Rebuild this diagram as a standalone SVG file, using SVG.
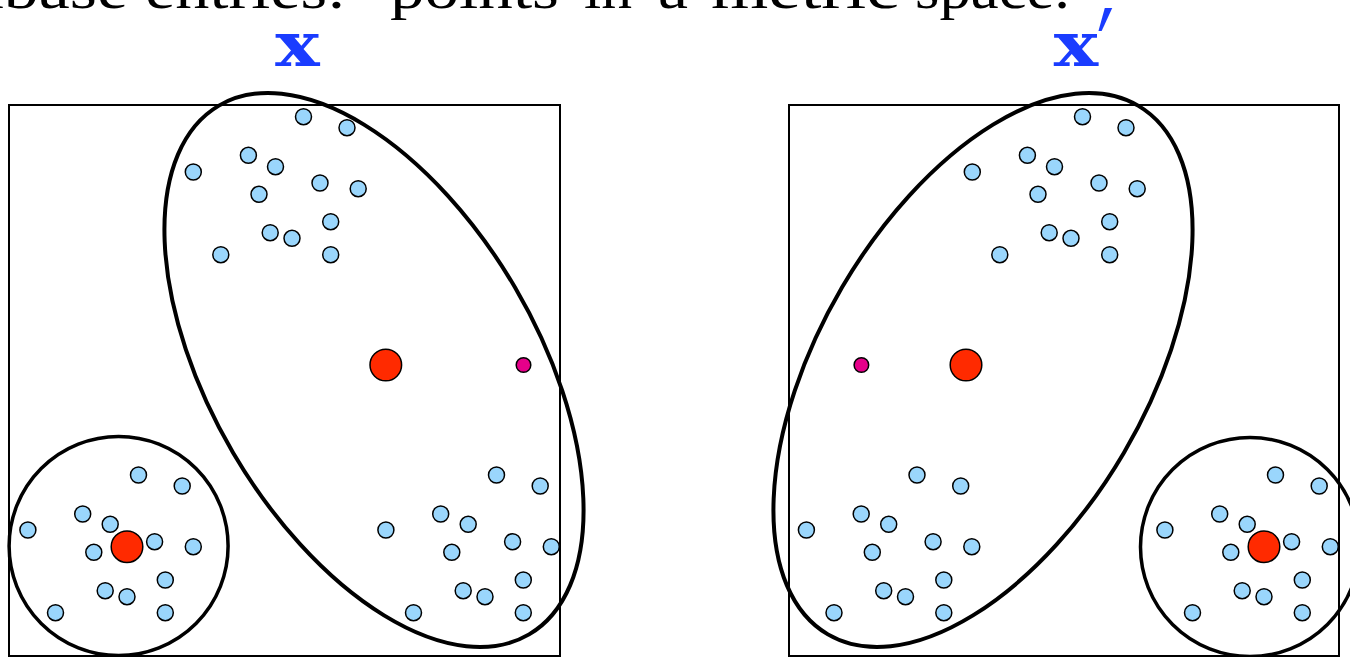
<svg xmlns="http://www.w3.org/2000/svg" xmlns:xlink="http://www.w3.org/1999/xlink" width="1350" height="657" viewBox="0 0 1350 657">
<style>
.title{font-family:"Liberation Serif","DejaVu Serif",serif;font-size:56px;fill:#000}
.lbl{font-family:"DejaVu Serif","Liberation Serif",serif;font-weight:bold;font-size:62px;fill:#1a3cff}
.prime{font-family:"DejaVu Sans","Liberation Sans",sans-serif;font-size:125px;fill:#1a3cff}
.box{fill:none;stroke:#000;stroke-width:2}
.big{fill:none;stroke:#000;stroke-width:4}
.small{fill:none;stroke:#000;stroke-width:3.5}
.pt{fill:#9ad6fc;stroke:#000;stroke-width:1.5}
.ctr{fill:#ff2a00;stroke:#000;stroke-width:1.5}
.q{fill:#e6008a;stroke:#000;stroke-width:1.5}
</style>
<defs>
<g id="topc">
<circle class="pt" cx="303.5" cy="116.7" r="8"/>
<circle class="pt" cx="347" cy="127.7" r="8"/>
<circle class="pt" cx="248.4" cy="155.3" r="8"/>
<circle class="pt" cx="275.5" cy="166.7" r="8"/>
<circle class="pt" cx="193.3" cy="172" r="8"/>
<circle class="pt" cx="320" cy="183" r="8"/>
<circle class="pt" cx="358.2" cy="188.7" r="8"/>
<circle class="pt" cx="259" cy="194.3" r="8"/>
<circle class="pt" cx="330.7" cy="221.7" r="8"/>
<circle class="pt" cx="270.2" cy="232.7" r="8"/>
<circle class="pt" cx="292" cy="238.3" r="8"/>
<circle class="pt" cx="220.8" cy="254.7" r="8"/>
<circle class="pt" cx="330.7" cy="254.7" r="8"/>
</g>
<g id="botc">
<circle class="pt" cx="138.5" cy="475" r="8"/>
<circle class="pt" cx="182.2" cy="486" r="8"/>
<circle class="pt" cx="82.7" cy="514" r="8"/>
<circle class="pt" cx="110.2" cy="524.3" r="8"/>
<circle class="pt" cx="27.9" cy="530" r="8"/>
<circle class="pt" cx="154.6" cy="541.7" r="8"/>
<circle class="pt" cx="93.8" cy="552.3" r="8"/>
<circle class="pt" cx="193.3" cy="546.7" r="8"/>
<circle class="pt" cx="165.3" cy="580" r="8"/>
<circle class="pt" cx="105.2" cy="590.7" r="8"/>
<circle class="pt" cx="127" cy="596.7" r="8"/>
<circle class="pt" cx="55.5" cy="612.7" r="8"/>
<circle class="pt" cx="165.3" cy="612.7" r="8"/>
</g>
</defs>
<text class="title" y="7.5"><tspan x="-128" textLength="256" lengthAdjust="spacingAndGlyphs">Database</tspan> <tspan x="145" textLength="201" lengthAdjust="spacingAndGlyphs">entries:</tspan> <tspan x="390" textLength="169" lengthAdjust="spacingAndGlyphs">points</tspan> <tspan x="584" textLength="48" lengthAdjust="spacingAndGlyphs">in</tspan> <tspan x="658" textLength="30" lengthAdjust="spacingAndGlyphs">a</tspan> <tspan x="711" textLength="188" lengthAdjust="spacingAndGlyphs">metric</tspan> <tspan x="915" textLength="155" lengthAdjust="spacingAndGlyphs">space.</tspan></text>
<g id="panel-x">
<text class="lbl" transform="translate(297.5,66) scale(1.2,1)" text-anchor="middle">x</text>
<rect class="box" x="9" y="105" width="551" height="551"/>
<g id="cluster-x-top"><use xlink:href="#topc"/></g>
<g id="cluster-x-bigbottom"><use xlink:href="#botc" transform="translate(358,0)"/></g>
<g id="cluster-x-small"><use xlink:href="#botc"/></g>
<ellipse id="ball-x-big" class="big" cx="374" cy="370" rx="306.5" ry="163.4" transform="rotate(59.6 374 370)"/>
<circle id="ball-x-small" class="small" cx="118.6" cy="546" r="109.5"/>
<circle id="center-x-big" class="ctr" cx="385.8" cy="365" r="15.8"/>
<circle id="center-x-small" class="ctr" cx="127" cy="546.7" r="15.8"/>
<circle id="query-x" class="q" cx="523.5" cy="365" r="7.3"/>
</g>
<g id="panel-xp">
<text class="lbl" transform="translate(1076,66) scale(1.2,1)" text-anchor="middle">x</text>
<text class="prime" transform="translate(1097,99) scale(0.6,1)">′</text>
<rect class="box" x="789" y="105" width="550" height="551"/>
<g id="cluster-xp-top"><use xlink:href="#topc" transform="translate(779,0)"/></g>
<g id="cluster-xp-bigbottom"><use xlink:href="#botc" transform="translate(778.5,0)"/></g>
<g id="cluster-xp-small"><use xlink:href="#botc" transform="translate(1137,0)"/></g>
<ellipse id="ball-xp-big" class="big" cx="983" cy="370" rx="306.5" ry="163.4" transform="rotate(-59.6 983 370)"/>
<circle id="ball-xp-small" class="small" cx="1250" cy="547" r="109.5"/>
<circle id="center-xp-big" class="ctr" cx="966" cy="365" r="15.8"/>
<circle id="center-xp-small" class="ctr" cx="1264" cy="546.7" r="15.8"/>
<circle id="query-xp" class="q" cx="861.4" cy="365" r="7.3"/>
</g>
</svg>
